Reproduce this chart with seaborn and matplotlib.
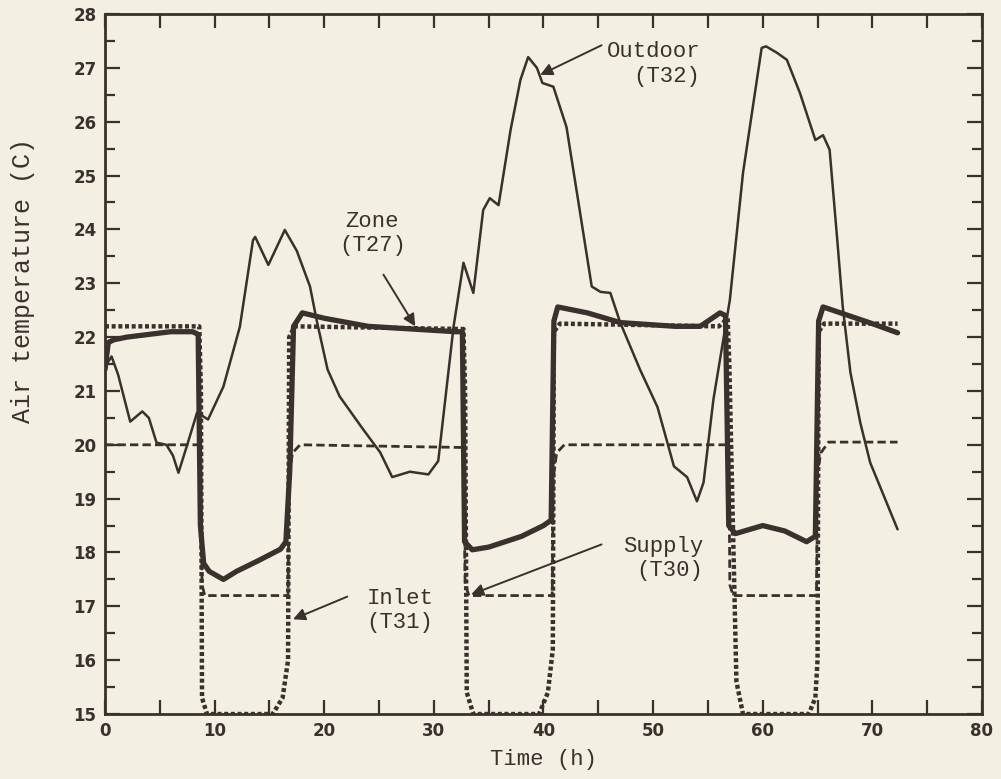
import matplotlib
matplotlib.use('Agg')
import matplotlib.pyplot as plt
import seaborn as sns

# Outdoor (T32) - thin solid line
outdoor_t = [0, 0.6, 1.2, 2.3, 3.4, 4.0, 4.7, 5.6, 6.2, 6.7, 7.5, 8.4, 9.4, 10.8, 12.3,
             13.5, 13.7, 14.9, 16.4, 17.5, 18.7, 19.3, 20.3, 21.4, 23.5, 25.1, 26.2, 27.8,
             29.5, 30.4, 31.8, 32.7, 33.6, 34.5, 35.1, 35.9, 37.0, 37.9, 38.6, 39.4, 39.9,
             40.9, 42.1, 43.3, 44.4, 45.2, 46.1, 47.0, 48.8, 50.4, 51.3, 51.9, 53.1, 54.0,
             54.6, 55.5, 57.0, 58.2, 59.9, 60.3, 61.3, 62.2, 63.4, 64.8, 65.5, 66.1, 66.8,
             67.3, 68.0, 68.9, 69.8, 72.3]
outdoor_T = [21.45, 21.64, 21.3, 20.43, 20.62, 20.5, 20.04, 20.0, 19.8, 19.48, 20.0, 20.6,
             20.47, 21.08, 22.19, 23.8, 23.86, 23.34, 23.99, 23.6, 22.94, 22.32, 21.4, 20.9,
             20.3, 19.86, 19.4, 19.5, 19.45, 19.7, 22.2, 23.38, 22.82, 24.36, 24.58, 24.45,
             25.85, 26.78, 27.2, 27.0, 26.72, 26.65, 25.9, 24.36, 22.94, 22.84, 22.82, 22.27,
             21.4, 20.7, 20.04, 19.6, 19.4, 18.95, 19.3, 20.84, 22.69, 25.05, 27.37, 27.4,
             27.28, 27.15, 26.53, 25.66, 25.75, 25.48, 23.8, 22.56, 21.34, 20.41, 19.67, 18.43]

# Zone (T27) - thick solid line
zone_t = [0, 0.3, 0.8, 2, 4, 6, 8, 8.5, 8.7, 9.0, 9.5, 10.8, 12, 14, 16, 16.5, 16.85,
          17.2, 18.0, 20, 24, 28, 32, 32.6, 32.8, 33.5, 35, 38, 40, 40.7, 40.95, 41.3,
          44, 47, 52, 54.3, 56.1, 56.6, 56.9, 57.5, 60, 62, 64, 64.8, 65.1, 65.5, 67.1,
          70, 72.3]
zone_T = [21.4, 21.9, 21.95, 22.0, 22.05, 22.1, 22.1, 22.05, 18.5, 17.8, 17.65, 17.5,
          17.65, 17.85, 18.06, 18.2, 19.5, 22.2, 22.45, 22.35, 22.2, 22.15, 22.1, 22.1,
          18.2, 18.05, 18.1, 18.3, 18.5, 18.6, 22.3, 22.56, 22.45, 22.27, 22.2, 22.2,
          22.45, 22.4, 18.5, 18.35, 18.5, 18.4, 18.2, 18.3, 22.3, 22.56, 22.45, 22.25, 22.08]

# Inlet (T31) - 22.2 occupied, 15 unoccupied
inlet_t = [0, 8.6, 8.75, 8.85, 9.3, 15.3, 16.2, 16.7, 16.8, 17.3, 32.7, 32.85, 33.0,
           33.6, 39.6, 40.4, 40.85, 40.95, 41.5, 56.0, 56.8, 56.95, 57.6, 58.2, 64.2,
           64.8, 65.0, 65.1, 65.6, 72.3]
inlet_T = [22.2, 22.2, 21.0, 15.3, 15.0, 15.0, 15.3, 16.0, 22.0, 22.2, 22.15, 21.0, 15.4,
           15.0, 15.0, 15.4, 16.2, 22.1, 22.25, 22.2, 22.35, 21.5, 15.6, 15.0, 15.0, 15.3,
           16.0, 22.1, 22.25, 22.25]

# Supply (T30) - 20 occupied, 17.2 unoccupied
supply_t = [0, 8.7, 8.85, 9.1, 16.7, 16.8, 17.1, 17.8, 32.7, 32.85, 33.2, 40.8, 40.9,
            41.2, 41.9, 56.9, 57.0, 57.3, 64.9, 65.0, 65.3, 66.0, 72.3]
supply_T = [20.0, 20.0, 17.4, 17.2, 17.2, 19.4, 19.85, 20.0, 19.95, 17.4, 17.2, 17.2,
            19.4, 19.85, 20.0, 20.0, 17.4, 17.2, 17.2, 19.5, 19.85, 20.05, 20.05]

x_ticks = [0, 10, 20, 30, 40, 50, 60, 70, 80]
y_ticks = list(range(15, 29))

bg = '#f3efe3'
ink = '#3b312c'
mono = 'Liberation Mono'

sns.set_style('ticks')
plt.rcParams['font.family'] = ['DejaVu Sans']

fig = plt.figure(figsize=(10.01, 7.79), dpi=100, facecolor=bg)
ax = fig.add_axes([0.1049, 0.0834, 0.8761, 0.8986], facecolor=bg)

sns.lineplot(x=outdoor_t, y=outdoor_T, ax=ax, sort=False, estimator=None,
             color=ink, linewidth=1.8)
sns.lineplot(x=supply_t, y=supply_T, ax=ax, sort=False, estimator=None,
             color=ink, linewidth=2.0, linestyle=(0, (3.0, 1.5)))
sns.lineplot(x=inlet_t, y=inlet_T, ax=ax, sort=False, estimator=None,
             color=ink, linewidth=3.2, linestyle=(0, (0.9, 0.6)))
sns.lineplot(x=zone_t, y=zone_T, ax=ax, sort=False, estimator=None,
             color=ink, linewidth=3.8)

ax.set_xlim(0, 80)
ax.set_ylim(15, 28)
ax.set_xticks(x_ticks)
ax.set_xticks([5, 15, 25, 35, 45, 55, 65, 75], minor=True)
ax.set_yticks(y_ticks)
ax.set_yticks([y + 0.5 for y in y_ticks[:-1]], minor=True)
ax.set_xticklabels([str(v) for v in x_ticks], fontsize=12, fontweight='bold', color=ink)
ax.set_yticklabels([str(v) for v in y_ticks], fontsize=12, fontweight='bold', color=ink)
ax.tick_params(which='both', direction='in', top=True, right=True, color=ink, width=1.6)
ax.tick_params(which='major', length=11, pad=6)
ax.tick_params(which='minor', length=7)
ax.tick_params(axis='x', which='both', length=10)

for s in ax.spines.values():
    s.set_color(ink)
    s.set_linewidth(2.0)

ax.set_xlabel('Time (h)', fontsize=16, family=mono, color=ink, labelpad=6)
ax.set_ylabel('Air temperature (C)', fontsize=18, family=mono, color=ink)
ax.yaxis.set_label_coords(-0.08, 0.62)

arrow = dict(arrowstyle='-|>', color=ink, lw=1.4, mutation_scale=18, shrinkA=0, shrinkB=0)
txt = dict(fontsize=16, family=mono, color=ink, va='center')

ax.text(54.3, 27.07, 'Outdoor\n(T32)', ha='right', multialignment='right', **txt)
ax.annotate('', xy=(39.7, 26.87), xytext=(45.3, 27.42), arrowprops=arrow)

ax.text(24.4, 23.92, 'Zone\n(T27)', ha='center', multialignment='center', **txt)
ax.annotate('', xy=(28.3, 22.2), xytext=(25.4, 23.16), arrowprops=arrow)

ax.text(54.6, 17.89, 'Supply\n(T30)', ha='right', multialignment='right', **txt)
ax.annotate('', xy=(33.4, 17.22), xytext=(45.3, 18.15), arrowprops=arrow)

ax.text(26.9, 16.92, 'Inlet\n(T31)', ha='center', multialignment='center', **txt)
ax.annotate('', xy=(17.15, 16.76), xytext=(22.1, 17.18), arrowprops=arrow)

fig.savefig('out.png', dpi=100, facecolor=bg)
plt.close(fig)
